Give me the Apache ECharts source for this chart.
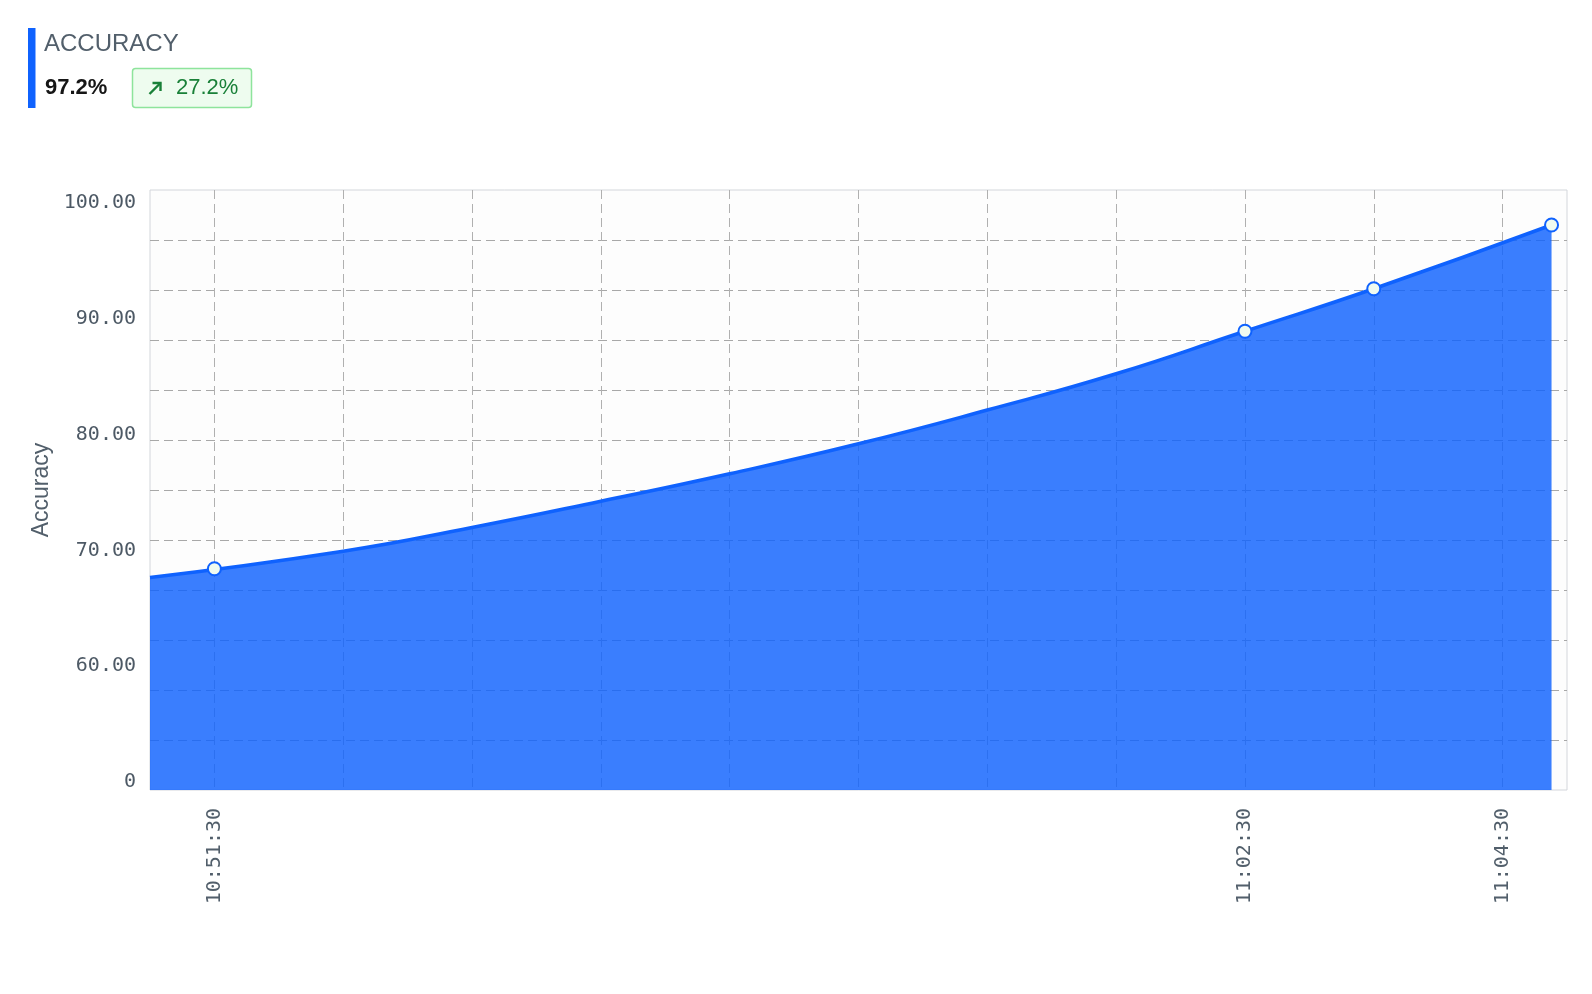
<html lang="en">
<head>
    <meta charset="UTF-8">
    <title>Accuracy</title>
    <script src="https://cdn.jsdelivr.net/npm/echarts@6.0.0/dist/echarts.min.js"></script>
    <style>
        body { margin: 0; background: #ffffff; }
    </style>
</head>
<body>
<div id="main" style="width: 1592px;height:994px;"></div>
<script type="text/javascript">
    // x positions are grid slots (one slot per vertical grid line)
    var xGridSlots = [0, 1, 2, 3, 4, 5, 6, 7, 8, 9, 10];
    var xLabelSlots = [0, 8, 10];
    var xLabelTexts = ['10:51:30', '11:02:30', '11:04:30'];

    var yGridValues = [56, 60, 64, 68, 72, 76, 80, 84, 88, 92, 96];
    var yLabelValues = [50, 60, 70, 80, 90, 100];
    var yLabelTexts = ['0', '60.00', '70.00', '80.00', '90.00', '100.00'];

    // measured points
    var pointSlots = [0, 8, 9, 10.38];
    var pointValues = [69.7, 88.7, 92.1, 97.2];

    // curve (left edge, then each grid line)
    var curveSlots = [-0.5, 1, 2, 3, 4, 5, 6, 7, 8, 9, 10.38];
    var curveValues = [69.0, 71.1, 73.0, 75.1, 77.3, 79.7, 82.4, 85.3, 88.7, 92.1, 97.2];

    var headTitle = 'ACCURACY';
    var headValue = '97.2%';
    var headDelta = '27.2%';

    var curveData = curveSlots.map(function (x, i) { return [x, curveValues[i]]; });
    var pointData = pointSlots.map(function (x, i) { return [x, pointValues[i]]; });

    var myChart = echarts.init(document.getElementById('main'));
    var green = '#198038';
    var monoFont = '"DejaVu Sans Mono", monospace';

    var option = {
        animation: false,
        graphic: [
            { type: 'rect', shape: { x: 28, y: 28, width: 7.5, height: 80 }, style: { fill: '#0f62fe' } },
            { type: 'text', style: { x: 44, y: 44, text: headTitle, fill: '#525f6b', font: '24px "Liberation Sans", Arial, sans-serif', verticalAlign: 'middle' } },
            { type: 'text', style: { x: 45, y: 88, text: headValue, fill: '#161616', font: 'bold 22px "Liberation Sans", Arial, sans-serif', verticalAlign: 'middle' } },
            { type: 'rect', shape: { x: 132.5, y: 68.5, width: 119, height: 39, r: 3 }, style: { fill: '#eefcef', stroke: '#8ee49c', lineWidth: 1.5 } },
            { type: 'polyline', shape: { points: [[149.5, 94], [160.5, 83]] }, style: { stroke: green, lineWidth: 2.4 } },
            { type: 'polyline', shape: { points: [[152.5, 83], [160.5, 83], [160.5, 91]] }, style: { stroke: green, lineWidth: 2.4, fill: null } },
            { type: 'text', style: { x: 176, y: 88, text: headDelta, fill: green, font: '22px "Liberation Sans", Arial, sans-serif', verticalAlign: 'middle' } }
        ],
        grid: {
            left: 150,
            top: 190,
            width: 1417,
            height: 600,
            show: true,
            backgroundColor: '#fdfdfd',
            borderColor: '#d3d6db',
            borderWidth: 1
        },
        xAxis: {
            type: 'value',
            min: -0.5,
            max: 10.5,
            axisLine: { show: false },
            axisTick: { show: false, customValues: xGridSlots },
            splitLine: { show: true, lineStyle: { color: '#b0b0b0', type: [9, 5], width: 1 } },
            axisLabel: {
                customValues: xLabelSlots,
                rotate: 90,
                margin: 18,
                color: '#525f6b',
                fontFamily: monoFont,
                fontSize: 20,
                formatter: function (v) {
                    var i = xLabelSlots.indexOf(v);
                    return i < 0 ? '' : xLabelTexts[i];
                }
            }
        },
        yAxis: [
            {
                type: 'value',
                min: 52,
                max: 100,
                axisLine: { show: false },
                axisTick: { show: false, customValues: yGridValues },
                axisLabel: { show: false },
                splitLine: { show: true, lineStyle: { color: '#a8a8a8', type: [9, 5], width: 1 } }
            },
            {
                type: 'value',
                position: 'left',
                min: 49.31,
                max: 101.12,
                name: 'Accuracy',
                nameLocation: 'middle',
                nameGap: 97,
                nameTextStyle: { color: '#525f6b', fontSize: 23, fontFamily: '"Liberation Sans", Arial, sans-serif' },
                axisLine: { show: false },
                axisTick: { show: false },
                splitLine: { show: false },
                axisLabel: {
                    customValues: yLabelValues,
                    margin: 14,
                    color: '#4d5965',
                    fontFamily: monoFont,
                    fontSize: 20,
                    formatter: function (v) {
                        var i = yLabelValues.indexOf(v);
                        return i < 0 ? '' : yLabelTexts[i];
                    }
                }
            }
        ],
        series: [
            {
                name: 'Accuracy',
                type: 'line',
                smooth: true,
                showSymbol: false,
                data: curveData,
                lineStyle: { color: '#0f62fe', width: 3.5 },
                areaStyle: { color: '#0f62fe', opacity: 0.82 },
                z: 2
            },
            {
                name: 'points',
                type: 'scatter',
                data: pointData,
                symbol: 'circle',
                symbolSize: 13,
                itemStyle: { color: '#f0fbf0', borderColor: '#0f62fe', borderWidth: 2, opacity: 1 },
                z: 5
            }
        ]
    };

    myChart.setOption(option);
</script>
</body>
</html>
